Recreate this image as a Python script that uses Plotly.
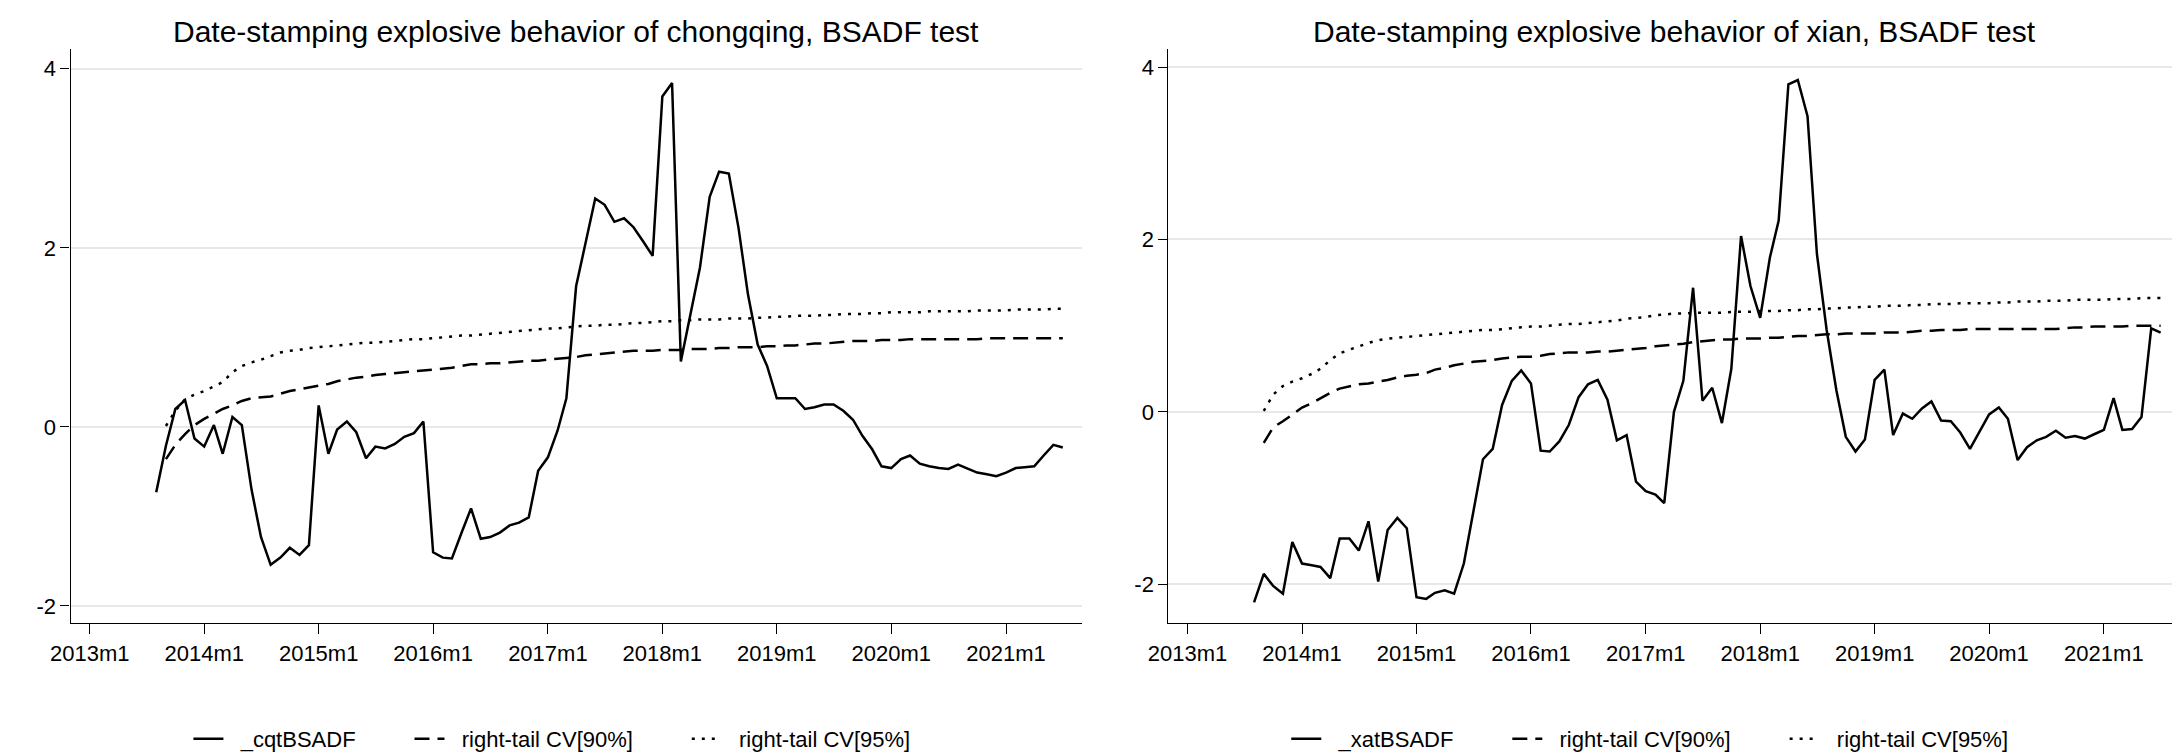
import pandas as pd
import plotly.graph_objects as go

# Months 2013m8 .. 2021m7
months = pd.date_range("2013-08-01", "2021-07-01", freq="MS")
cv_months = months[1:]  # critical values start 2013m9

tick_dates = ["%d-01-01" % y for y in range(2013, 2022)]
tick_labels = ["%dm1" % y for y in range(2013, 2022)]
ytick_vals = [-2, 0, 2, 4]
ytick_text = ["-2", "0", "2", "4"]

cq_bsadf = [
    -0.73, -0.21, 0.20, 0.30, -0.13,
    -0.22, 0.02, -0.30, 0.11, 0.02, -0.70, -1.23, -1.54, -1.46, -1.35, -1.43, -1.32,
    0.24, -0.30, -0.03, 0.06, -0.06, -0.35, -0.22, -0.24, -0.19, -0.11, -0.07, 0.06,
    -1.40, -1.46, -1.47, -1.18, -0.91, -1.25, -1.23, -1.18, -1.10, -1.07, -1.01, -0.49,
    -0.34, -0.04, 0.32, 1.57, 2.07, 2.55, 2.48, 2.29, 2.33, 2.23, 2.07, 1.91,
    3.69, 3.84, 0.73, 1.25, 1.78, 2.57, 2.85, 2.83, 2.22, 1.48, 0.92, 0.68,
    0.32, 0.32, 0.32, 0.20, 0.22, 0.25, 0.25, 0.18, 0.08, -0.10, -0.25, -0.44,
    -0.46, -0.36, -0.32, -0.41, -0.44, -0.46, -0.47, -0.42, -0.47, -0.51, -0.53, -0.55,
    -0.51, -0.46, -0.45, -0.44, -0.32, -0.20, -0.23,
]
cq_cv90 = [
    -0.36, -0.20, -0.08, 0.02,
    0.09, 0.15, 0.20, 0.24, 0.29, 0.32, 0.33, 0.34, 0.37, 0.40, 0.42, 0.44,
    0.46, 0.48, 0.51, 0.53, 0.55, 0.56, 0.58, 0.59, 0.60, 0.61, 0.62, 0.63,
    0.64, 0.65, 0.66, 0.68, 0.70, 0.70, 0.71, 0.71, 0.72, 0.73, 0.74, 0.74,
    0.75, 0.76, 0.77, 0.78, 0.80, 0.81, 0.82, 0.83, 0.84, 0.85, 0.85, 0.85,
    0.86, 0.86, 0.86, 0.87, 0.87, 0.87, 0.88, 0.88, 0.89, 0.89, 0.89, 0.90,
    0.90, 0.91, 0.91, 0.92, 0.93, 0.93, 0.94, 0.95, 0.96, 0.96, 0.96, 0.97,
    0.97, 0.97, 0.98, 0.98, 0.98, 0.98, 0.98, 0.98, 0.98, 0.98, 0.99, 0.99,
    0.99, 0.99, 0.99, 0.99, 0.99, 0.99, 0.99,
]
cq_cv95 = [
    0.01, 0.18, 0.31, 0.36,
    0.40, 0.45, 0.50, 0.61, 0.68, 0.72, 0.75, 0.79, 0.83, 0.85, 0.86, 0.88,
    0.89, 0.90, 0.91, 0.92, 0.93, 0.94, 0.94, 0.95, 0.96, 0.97, 0.98, 0.98,
    0.99, 1.00, 1.01, 1.02, 1.02, 1.03, 1.04, 1.05, 1.06, 1.07, 1.08, 1.09,
    1.10, 1.10, 1.11, 1.12, 1.13, 1.13, 1.14, 1.14, 1.15, 1.16, 1.16, 1.17,
    1.18, 1.18, 1.19, 1.19, 1.20, 1.20, 1.20, 1.21, 1.21, 1.21, 1.22, 1.22,
    1.23, 1.23, 1.24, 1.24, 1.24, 1.25, 1.25, 1.26, 1.26, 1.26, 1.27, 1.27,
    1.28, 1.28, 1.28, 1.28, 1.29, 1.29, 1.29, 1.29, 1.29, 1.30, 1.30, 1.30,
    1.30, 1.31, 1.31, 1.31, 1.31, 1.32, 1.32,
]

xa_bsadf = [
    -2.21, -1.88, -2.02, -2.11, -1.51,
    -1.76, -1.78, -1.80, -1.93, -1.47, -1.47, -1.61, -1.27, -1.97, -1.37, -1.23, -1.35,
    -2.15, -2.17, -2.10, -2.07, -2.11, -1.76, -1.15, -0.55, -0.43, 0.08, 0.36, 0.48,
    0.33, -0.45, -0.46, -0.34, -0.15, 0.17, 0.32, 0.37, 0.14, -0.33, -0.27, -0.81,
    -0.92, -0.96, -1.06, 0.00, 0.36, 1.44, 0.13, 0.28, -0.13, 0.50, 2.04, 1.46,
    1.09, 1.79, 2.22, 3.80, 3.85, 3.43, 1.83, 0.95, 0.25, -0.29, -0.46, -0.32,
    0.37, 0.49, -0.27, -0.02, -0.08, 0.04, 0.12, -0.10, -0.11, -0.24, -0.43, -0.24,
    -0.03, 0.05, -0.08, -0.56, -0.41, -0.33, -0.29, -0.22, -0.30, -0.28, -0.31, -0.26,
    -0.21, 0.16, -0.21, -0.20, -0.06, 0.97, 0.92,
]
xa_cv90 = [
    -0.36, -0.18, -0.11, -0.03,
    0.05, 0.10, 0.16, 0.22, 0.27, 0.30, 0.32, 0.33, 0.35, 0.37, 0.40, 0.42,
    0.43, 0.45, 0.49, 0.51, 0.54, 0.56, 0.58, 0.59, 0.60, 0.62, 0.63, 0.64,
    0.64, 0.65, 0.67, 0.68, 0.69, 0.69, 0.69, 0.70, 0.70, 0.71, 0.72, 0.73,
    0.74, 0.76, 0.77, 0.78, 0.79, 0.81, 0.82, 0.83, 0.84, 0.84, 0.85, 0.85,
    0.85, 0.86, 0.86, 0.87, 0.88, 0.88, 0.89, 0.90, 0.90, 0.91, 0.91, 0.91,
    0.91, 0.92, 0.92, 0.92, 0.93, 0.94, 0.94, 0.95, 0.95, 0.95, 0.96, 0.96,
    0.96, 0.96, 0.96, 0.96, 0.96, 0.96, 0.96, 0.96, 0.97, 0.98, 0.98, 0.99,
    0.99, 0.99, 0.99, 1.00, 1.00, 1.00, 1.00,
]
xa_cv95 = [
    0.01, 0.20, 0.30, 0.35,
    0.39, 0.44, 0.50, 0.60, 0.68, 0.72, 0.76, 0.80, 0.83, 0.85, 0.86, 0.87,
    0.88, 0.89, 0.90, 0.91, 0.92, 0.93, 0.94, 0.95, 0.95, 0.96, 0.97, 0.98,
    0.99, 0.99, 1.00, 1.01, 1.02, 1.02, 1.03, 1.04, 1.05, 1.06, 1.08, 1.09,
    1.10, 1.12, 1.13, 1.14, 1.14, 1.15, 1.15, 1.15, 1.15, 1.16, 1.16, 1.16,
    1.17, 1.17, 1.17, 1.18, 1.18, 1.19, 1.19, 1.20, 1.20, 1.21, 1.21, 1.22,
    1.22, 1.23, 1.23, 1.23, 1.24, 1.24, 1.25, 1.25, 1.25, 1.26, 1.26, 1.26,
    1.26, 1.27, 1.27, 1.28, 1.28, 1.28, 1.29, 1.29, 1.29, 1.30, 1.30, 1.30,
    1.30, 1.31, 1.31, 1.31, 1.32, 1.32, 1.32,
]

titles = ["Date-stamping explosive behavior of chongqing, BSADF test",
          "Date-stamping explosive behavior of xian, BSADF test"]
names_left = ["_cqtBSADF", "right-tail CV[90%]", "right-tail CV[95%]"]
names_right = ["_xatBSADF", "right-tail CV[90%]", "right-tail CV[95%]"]

FONT = "Liberation Sans, Arial, Helvetica, sans-serif"
W, H = 2180, 752
LW = 2.5
DASH = "15px,8px"
DOT = "3px,7px"
NB = "\u00a0"

def legend_label(s):
    return NB * 2 + s + NB * 8

fig = go.Figure()

def add_panel(xa, ya, leg, bsadf, cv90, cv95, names):
    fig.add_trace(go.Scatter(x=months, y=bsadf, mode="lines", name=legend_label(names[0]),
                             line=dict(color="black", width=LW),
                             xaxis=xa, yaxis=ya, legend=leg))
    fig.add_trace(go.Scatter(x=cv_months, y=cv90, mode="lines", name=legend_label(names[1]),
                             line=dict(color="black", width=LW, dash=DASH),
                             xaxis=xa, yaxis=ya, legend=leg))
    fig.add_trace(go.Scatter(x=cv_months, y=cv95, mode="lines", name=legend_label(names[2]),
                             line=dict(color="black", width=LW, dash=DOT),
                             xaxis=xa, yaxis=ya, legend=leg))

add_panel("x", "y", "legend", cq_bsadf, cq_cv90, cq_cv95, names_left)
add_panel("x2", "y2", "legend2", xa_bsadf, xa_cv90, xa_cv95, names_right)

dom_l = [43 / W, 1064 / W]
dom_r = [1151 / W, 2172 / W]
ydom = [1 - 615 / H, 1 - 41 / H]

xcommon = dict(range=["2012-11-01", "2021-09-01"], tickmode="array",
               tickvals=tick_dates, ticktext=tick_labels, showgrid=False,
               showline=True, linecolor="black", linewidth=1.3, ticks="outside",
               ticklen=10, tickwidth=1.3, tickcolor="black", zeroline=False,
               tickfont=dict(family=FONT, size=22, color="black"))
ycommon = dict(tickmode="array", tickvals=ytick_vals, ticktext=ytick_text,
               showgrid=True, gridcolor="#e8e8e8", gridwidth=2,
               showline=True, linecolor="black", linewidth=1.3, ticks="outside",
               ticklen=9, tickwidth=1.3, tickcolor="black", zeroline=False,
               tickfont=dict(family=FONT, size=22, color="black"))

legcommon = dict(orientation="h", xanchor="center", yanchor="middle",
                 font=dict(family=FONT, size=22, color="black"),
                 bgcolor="rgba(0,0,0,0)", itemwidth=30)

fig.update_layout(
    width=W, height=H,
    margin=dict(l=0, r=0, t=0, b=0),
    paper_bgcolor="white", plot_bgcolor="white",
    showlegend=True,
    xaxis=dict(domain=dom_l, anchor="y", **xcommon),
    yaxis=dict(domain=ydom, anchor="x", range=[-2.19, 4.22], **ycommon),
    xaxis2=dict(domain=dom_r, anchor="y2", **xcommon),
    yaxis2=dict(domain=ydom, anchor="x2", range=[-2.45, 4.21], **ycommon),
    legend=dict(x=(dom_l[0] + dom_l[1]) / 2, y=1 - 731 / H, **legcommon),
    legend2=dict(x=(dom_r[0] + dom_r[1]) / 2, y=1 - 731 / H, **legcommon),
    annotations=[
        dict(text=titles[0], x=(dom_l[0] + dom_l[1]) / 2, y=1 - 23 / H,
             xref="paper", yref="paper", showarrow=False, xanchor="center",
             yanchor="middle", font=dict(family=FONT, size=30, color="black")),
        dict(text=titles[1], x=(dom_r[0] + dom_r[1]) / 2, y=1 - 23 / H,
             xref="paper", yref="paper", showarrow=False, xanchor="center",
             yanchor="middle", font=dict(family=FONT, size=30, color="black")),
    ],
)

fig.write_html("out.html")
